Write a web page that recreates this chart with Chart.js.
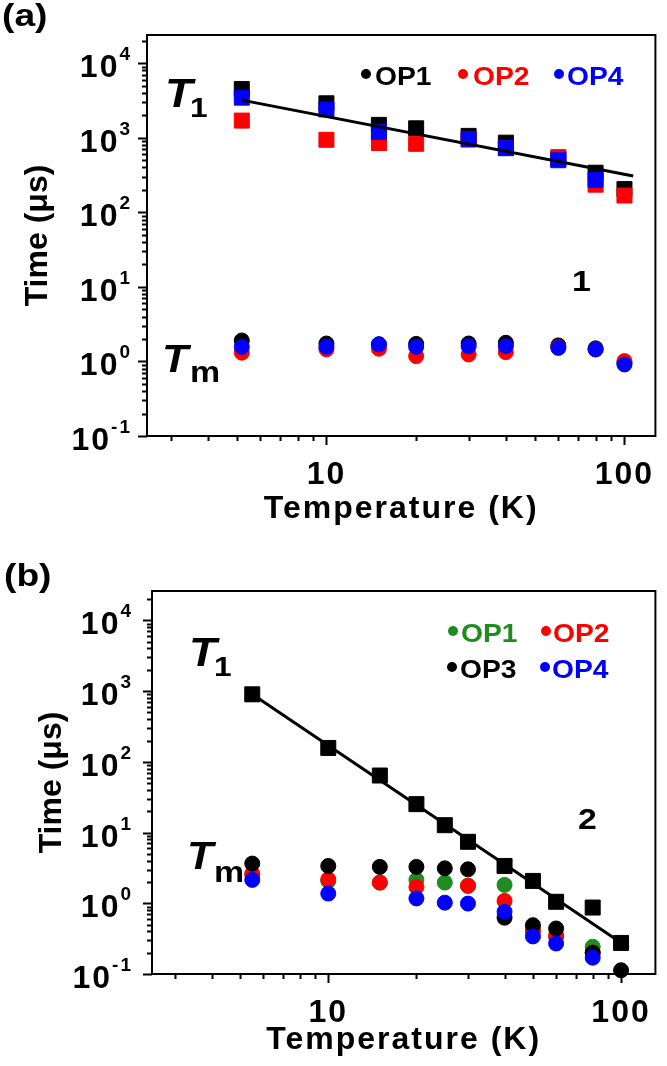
<!DOCTYPE html>
<html>
<head>
<meta charset="utf-8">
<title>Relaxation times versus temperature</title>
<script src="https://cdn.jsdelivr.net/npm/chart.js@4.4.1/dist/chart.umd.min.js"></script>
<style>
  html, body { margin: 0; padding: 0; background: #ffffff; }
  #page { position: relative; width: 667px; height: 1066px; overflow: hidden; background: #ffffff; }
  canvas { position: absolute; left: 0; }
  .txt { position: absolute; font-family: "Liberation Sans", Arial, sans-serif; font-weight: bold; line-height: 1; white-space: nowrap; color: #000; transform: scaleX(1.13); transform-origin: 0 0; }
  .it { font-style: italic; }
  .dot { position: absolute; width: 10px; height: 10px; border-radius: 50%; }
</style>
</head>
<body>
<div id="page">
  <canvas id="chartA" width="667" height="540" style="top:0px"></canvas>
  <canvas id="chartB" width="667" height="526" style="top:540px"></canvas>

  <!-- panel (a) annotations -->
  <div class="txt" style="left:2px;top:0px;font-size:31px;transform:scaleX(1.2)">(a)</div>
  <div class="txt it" style="left:165px;top:73px;font-size:40px">T</div>
  <div class="txt" style="left:190px;top:94px;font-size:28px">1</div>
  <div class="txt it" style="left:162px;top:340px;font-size:38px">T</div>
  <div class="txt" style="left:190px;top:357px;font-size:30px">m</div>
  <div class="txt" style="left:572px;top:266px;font-size:30px">1</div>

  <div class="dot" style="left:361px;top:69px;background:#000000"></div>
  <div class="txt" style="left:375px;top:64px;font-size:25px;color:#000000">OP1</div>
  <div class="dot" style="left:458px;top:69px;background:#ff0000"></div>
  <div class="txt" style="left:473px;top:64px;font-size:25px;color:#ff0000">OP2</div>
  <div class="dot" style="left:554px;top:69px;background:#0000ff"></div>
  <div class="txt" style="left:567px;top:64px;font-size:25px;color:#0000ff">OP4</div>

  <!-- panel (b) annotations -->
  <div class="txt" style="left:4px;top:560px;font-size:31px;transform:scaleX(1.2)">(b)</div>
  <div class="txt it" style="left:189px;top:632px;font-size:40px">T</div>
  <div class="txt" style="left:214px;top:653px;font-size:28px">1</div>
  <div class="txt it" style="left:187px;top:837px;font-size:38px">T</div>
  <div class="txt" style="left:214px;top:857px;font-size:30px">m</div>
  <div class="txt" style="left:578px;top:804px;font-size:30px">2</div>

  <div class="dot" style="left:448px;top:626px;background:#1e8c1e"></div>
  <div class="txt" style="left:461px;top:621px;font-size:25px;color:#1e8c1e">OP1</div>
  <div class="dot" style="left:541px;top:626px;background:#ff0000"></div>
  <div class="txt" style="left:553px;top:621px;font-size:25px;color:#ff0000">OP2</div>
  <div class="dot" style="left:447px;top:662px;background:#000000"></div>
  <div class="txt" style="left:460px;top:657px;font-size:25px;color:#000000">OP3</div>
  <div class="dot" style="left:540px;top:662px;background:#0000ff"></div>
  <div class="txt" style="left:552px;top:657px;font-size:25px;color:#0000ff">OP4</div>
</div>

<script>
// ---------------- data: panel (a), complex 1 ----------------
const tempsA = [5.2, 10, 15, 20, 30, 40, 60, 80, 100];
const t1A_OP1 = [4500, 2900, 1490, 1340, 1060, 860, 520, 340, 205];
const t1A_OP2 = [1700, 940, 850, 830, 950, 730, 550, 235, 168];
const t1A_OP4 = [3450, 2400, 1200, null, 955, 725, 500, 273, null];
const tmA_OP1 = [1.91, 1.74, 1.70, 1.72, 1.74, 1.78, 1.64, 1.50, 0.95];
const tmA_OP2 = [1.31, 1.45, 1.48, 1.18, 1.24, 1.33, 1.55, 1.45, 1.01];
const tmA_OP4 = [1.57, 1.57, 1.69, 1.57, 1.60, 1.60, 1.52, 1.45, 0.91];
const fitA_T = [5.2, 107];
const fitA_V = [3200, 307];

// ---------------- data: panel (b), complex 2 ----------------
const tempsB = [5.5, 10, 15, 20, 25, 30, 40, 50, 60, 80, 100];
const t1B = [900, 157, 64, 25.2, 12.7, 7.4, 3.37, 2.07, 1.05, 0.87, 0.275];
const tmB_OP1 = [2.62, 2.07, 1.96, 2.14, 1.96, 1.78, 1.82, 0.43, 0.35, 0.243, null];
const tmB_OP2 = [2.57, 2.18, 1.96, 1.70, null, 1.76, 1.08, 0.40, 0.34, 0.20, null];
const tmB_OP3 = [3.64, 3.37, 3.27, 3.27, 3.12, 3.02, 0.625, 0.49, 0.44, 0.20, 0.113];
const tmB_OP4 = [2.14, 1.37, null, 1.17, 1.02, 0.99, 0.76, 0.34, 0.27, 0.17, null];
const fitB_T = [5.5, 106];
const fitB_V = [900, 0.235];

// ---------------- axis ticks ----------------
const xTickValues = [3, 4, 5, 6, 7, 8, 9, 10, 20, 30, 40, 50, 60, 70, 80, 90, 100];
const xLabelValues = [10, 100];
const xLabelTexts = ['10', '100'];
const yTickValues = [0.1, 0.2, 0.3, 0.4, 0.5, 0.6, 0.7, 0.8, 0.9,
  1, 2, 3, 4, 5, 6, 7, 8, 9,
  10, 20, 30, 40, 50, 60, 70, 80, 90,
  100, 200, 300, 400, 500, 600, 700, 800, 900,
  1000, 2000, 3000, 4000, 5000, 6000, 7000, 8000, 9000,
  10000, 20000];
const yLabelValues = [0.1, 1, 10, 100, 1000, 10000];
const yLabelBases = ['10', '10', '10', '10', '10', '10'];
const yLabelExps = ['-1', '0', '1', '2', '3', '4'];

const COL = { black: '#000000', red: '#ff0000', blue: '#0000ff', green: '#1e8c1e' };
const FONT = "'Liberation Sans', Arial, sans-serif";

function pts(xs, ys) {
  const out = [];
  xs.forEach((x, i) => { if (ys[i] !== null) out.push({ x: x, y: ys[i] }); });
  return out;
}
function markSet(label, xs, ys, color, style, radius) {
  return {
    label, data: pts(xs, ys), pointStyle: style, pointRadius: radius, pointHoverRadius: radius,
    backgroundColor: color, borderColor: color, borderWidth: 1, showLine: false, clip: false
  };
}
function fitSet(label, xs, ys) {
  return {
    label, data: pts(xs, ys), showLine: true, borderColor: '#000', borderWidth: 3,
    pointRadius: 0, pointHoverRadius: 0, fill: false, tension: 0, clip: false
  };
}

// plot frame + outward log tick marks (positions from the chart's own scales)
const axisFrame = {
  id: 'axisFrame',
  beforeDatasetsDraw(chart, args, o) {
    const { ctx, chartArea: ca } = chart;
    const xs = chart.scales.x, ys = chart.scales.y;
    ctx.save();
    ctx.strokeStyle = '#000';
    ctx.lineWidth = o.lineWidth;
    ctx.strokeRect(ca.left, ca.top, ca.right - ca.left, ca.bottom - ca.top);
    ctx.beginPath();
    xs.ticks.forEach(t => {
      const p = Math.round(xs.getPixelForValue(t.value)) + 0.5;
      const l = t.major ? o.major : o.minor;
      ctx.moveTo(p, ca.bottom); ctx.lineTo(p, ca.bottom + l);
    });
    ys.ticks.forEach(t => {
      const p = Math.round(ys.getPixelForValue(t.value)) + 0.5;
      const l = t.major ? o.major : o.minor;
      ctx.moveTo(ca.left, p); ctx.lineTo(ca.left - l, p);
    });
    ctx.stroke();
    ctx.restore();
  }
};

// y tick labels written as 10 with a raised exponent, placed by the y scale
const expLabels = {
  id: 'expLabels',
  beforeDatasetsDraw(chart, args, o) {
    const { ctx, chartArea: ca } = chart;
    const ys = chart.scales.y;
    ctx.save();
    ctx.fillStyle = '#000';
    ctx.textBaseline = 'alphabetic';
    ctx.textAlign = 'left';
    try { ctx.letterSpacing = o.spacing + 'px'; } catch (e) {}
    yLabelValues.forEach((v, i) => {
      const p = ys.getPixelForValue(v);
      const right = ca.left - o.pad;
      ctx.font = 'bold ' + o.expSize + 'px ' + FONT;
      const ew = ctx.measureText(yLabelExps[i]).width;
      ctx.font = 'bold ' + o.size + 'px ' + FONT;
      const bw = ctx.measureText(yLabelBases[i]).width;
      const x0 = right - ew - bw;
      ctx.fillText(yLabelBases[i], x0, p + o.base);
      ctx.font = 'bold ' + o.expSize + 'px ' + FONT;
      ctx.fillText(yLabelExps[i], x0 + bw, p + o.base - o.raise);
    });
    ctx.restore();
  }
};

// horizontal texts of the x axis are drawn wider (letter spacing), the rotated title is not
const spacingCtl = {
  id: 'spacingCtl',
  beforeDraw(chart) { try { chart.ctx.letterSpacing = '0px'; } catch (e) {} },
  afterDatasetsDraw(chart, args, o) { try { chart.ctx.letterSpacing = o.spacing + 'px'; } catch (e) {} },
  afterDraw(chart) { try { chart.ctx.letterSpacing = '0px'; } catch (e) {} }
};

function makeChart(id, datasets, g) {
  const tickFont = { family: FONT, size: 32, weight: 'bold' };
  return new Chart(document.getElementById(id), {
    type: 'scatter',
    data: { datasets },
    options: {
      responsive: false, animation: false, events: [],
      layout: { padding: { top: g.padTop, right: g.padRight, left: 0, bottom: 0 } },
      plugins: {
        legend: { display: false }, tooltip: { enabled: false },
        axisFrame: { lineWidth: 2, major: 9, minor: 5 },
        expLabels: { pad: g.yTickPad, size: 32, expSize: 19, base: 14, raise: 17, spacing: 2 },
        spacingCtl: { spacing: 2 }
      },
      scales: {
        x: {
          type: 'logarithmic', position: 'bottom', min: g.xMin, max: g.xMax,
          grid: { display: false, z: 1 }, border: { display: false, z: 1 },
          afterBuildTicks: s => { s.ticks = xTickValues.map(v => ({ value: v, major: xLabelValues.indexOf(v) >= 0 })); },
          afterFit: s => { s.height = g.xHeight; },
          ticks: {
            z: 1, autoSkip: false, maxRotation: 0, minRotation: 0, padding: g.xTickPad, color: '#000', font: tickFont,
            callback: v => { const i = xLabelValues.indexOf(v); return i >= 0 ? xLabelTexts[i] : ''; }
          },
          title: { display: true, text: 'Temperature (K)', color: '#000', font: { family: FONT, size: 32, weight: 'bold' }, padding: { top: 0, bottom: g.xTitlePad } }
        },
        y: {
          type: 'logarithmic', position: 'left', min: 0.1, max: g.yMax,
          grid: { display: false }, border: { display: false },
          afterBuildTicks: s => { s.ticks = yTickValues.map(v => ({ value: v, major: yLabelValues.indexOf(v) >= 0 })); },
          afterFit: s => { s.width = g.yWidth; },
          ticks: { display: false, autoSkip: false },
          title: { display: true, text: 'Time (\u03BCs)', color: '#000', font: { family: FONT, size: 32, weight: 'bold' }, padding: { top: g.yTitlePad, bottom: 0 } }
        }
      }
    },
    plugins: [axisFrame, expLabels, spacingCtl]
  });
}

// Panel (a): first dataset is drawn on top
makeChart('chartA', [
  fitSet('T1 fit', fitA_T, fitA_V),
  markSet('OP4 T1', tempsA, t1A_OP4, COL.blue, 'rect', 10.6),
  markSet('OP4 Tm', tempsA, tmA_OP4, COL.blue, 'circle', 7.5),
  markSet('OP2 T1', tempsA, t1A_OP2, COL.red, 'rect', 10.6),
  markSet('OP2 Tm', tempsA, tmA_OP2, COL.red, 'circle', 7.5),
  markSet('OP1 T1', tempsA, t1A_OP1, COL.black, 'rect', 10.6),
  markSet('OP1 Tm', tempsA, tmA_OP1, COL.black, 'circle', 7.5)
], { padTop: 35, padRight: 8, xMin: 2.5, xMax: 127, yMax: 23900, xHeight: 104, yWidth: 147, xTickPad: 12, yTickPad: 15, xTitlePad: 12, yTitlePad: 19 });

// Panel (b)
makeChart('chartB', [
  fitSet('T1 fit', fitB_T, fitB_V),
  markSet('T1', tempsB, t1B, COL.black, 'rect', 10.6),
  markSet('OP4 Tm', tempsB, tmB_OP4, COL.blue, 'circle', 7.5),
  markSet('OP3 Tm', tempsB, tmB_OP3, COL.black, 'circle', 7.5),
  markSet('OP2 Tm', tempsB, tmB_OP2, COL.red, 'circle', 7.5),
  markSet('OP1 Tm', tempsB, tmB_OP1, COL.green, 'circle', 7.5)
], { padTop: 51, padRight: 10, xMin: 2.5, xMax: 131, yMax: 26000, xHeight: 92, yWidth: 152, xTickPad: 12, yTickPad: 19, xTitlePad: 7, yTitlePad: 33 });
</script>
</body>
</html>
